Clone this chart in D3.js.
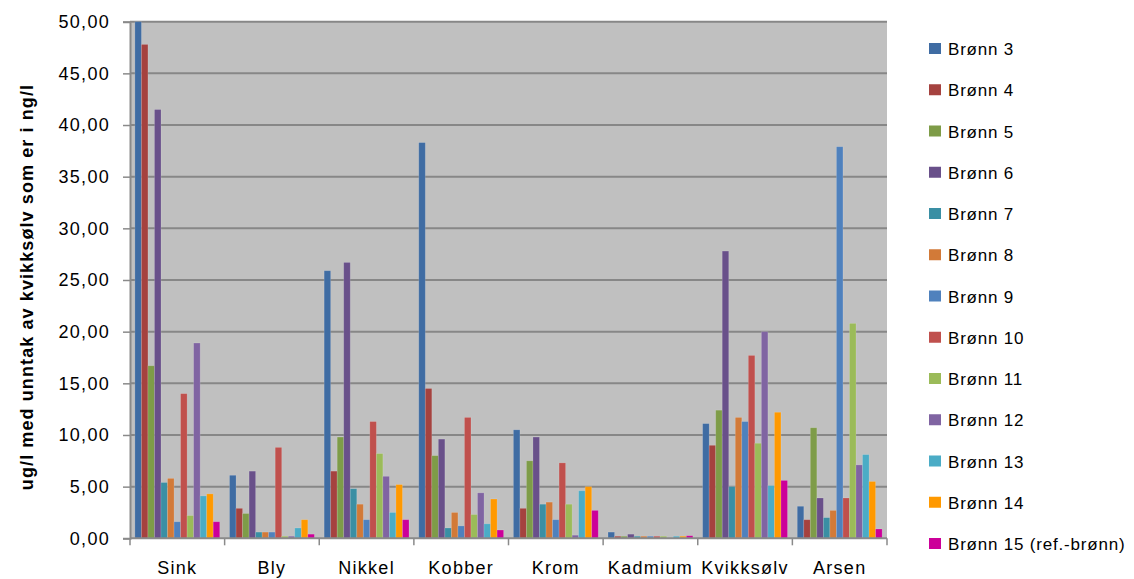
<!DOCTYPE html>
<html>
<head>
<meta charset="utf-8">
<script src="https://cdn.jsdelivr.net/npm/d3@7"></script>
<style>
  html, body { margin: 0; padding: 0; background: #fff; }
  svg { display: block; font-family: "Liberation Sans", Arial, sans-serif; }
</style>
</head>
<body>
<svg id="chart" width="1134" height="579"></svg>
<script>
// Metals measured in each well
const categories = ["Sink", "Bly", "Nikkel", "Kobber", "Krom", "Kadmium", "Kvikksølv", "Arsen"];

// Well names (legend order)
const series = ["Brønn 3", "Brønn 4", "Brønn 5", "Brønn 6", "Brønn 7", "Brønn 8", "Brønn 9",
                "Brønn 10", "Brønn 11", "Brønn 12", "Brønn 13", "Brønn 14", "Brønn 15 (ref.-brønn)"];

// Concentrations per well, one value per metal (same order as categories)
const bronn3  = [50.0, 6.1, 25.9, 38.3, 10.5, 0.6, 11.1, 3.1];
const bronn4  = [47.8, 2.9,  6.5, 14.5,  2.9, 0.2,  9.0, 1.8];
const bronn5  = [16.7, 2.4,  9.8,  8.0,  7.5, 0.2, 12.4, 10.7];
const bronn6  = [41.5, 6.5, 26.7,  9.6,  9.8, 0.4, 27.8, 3.9];
const bronn7  = [ 5.4, 0.6,  4.8,  1.0,  3.3, 0.2,  5.0, 2.0];
const bronn8  = [ 5.8, 0.6,  3.3,  2.5,  3.5, 0.2, 11.7, 2.7];
const bronn9  = [ 1.6, 0.6,  1.8,  1.2,  1.8, 0.2, 11.3, 37.9];
const bronn10 = [14.0, 8.8, 11.3, 11.7,  7.3, 0.2, 17.7, 3.9];
const bronn11 = [ 2.2, 0.2,  8.2,  2.3,  3.3, 0.2,  9.2, 20.8];
const bronn12 = [18.9, 0.2,  6.0,  4.4,  0.3, 0.0, 20.0, 7.1];
const bronn13 = [ 4.1, 1.0,  2.5,  1.4,  4.6, 0.2,  5.1, 8.1];
const bronn14 = [ 4.3, 1.8,  5.2,  3.8,  5.0, 0.2, 12.2, 5.5];
const bronn15 = [ 1.6, 0.4,  1.8,  0.8,  2.7, 0.25, 5.6, 0.9];

const values = [bronn3, bronn4, bronn5, bronn6, bronn7, bronn8, bronn9,
                bronn10, bronn11, bronn12, bronn13, bronn14, bronn15];

const yTicks = [0, 5, 10, 15, 20, 25, 30, 35, 40, 45, 50];

const colors = ["#3F6CA3", "#A5423F", "#7E9C48", "#69508A", "#3A8FA4", "#D27A38", "#4F81BD",
                "#C0504D", "#9BBB59", "#8064A2", "#4BACC6", "#FF9900", "#CC0099"];

const svg = d3.select("#chart");
const plot = { left: 130, right: 887, top: 21.7, bottom: 538.3 };

const x0 = d3.scaleBand().domain(categories).range([plot.left, plot.right]).padding(0);
const x1 = d3.scaleBand().domain(d3.range(series.length)).range([0, x0.bandwidth()])
             .paddingInner(0).paddingOuter(0.75);
const y = d3.scaleLinear().domain([0, 50]).range([plot.bottom, plot.top]);
const fmt = v => d3.format(".2f")(v).replace(".", ",");

// Plot background
svg.append("rect")
  .attr("x", plot.left).attr("y", plot.top)
  .attr("width", plot.right - plot.left).attr("height", plot.bottom - plot.top)
  .attr("fill", "#C0C0C0");

// Horizontal gridlines
svg.append("g").selectAll("line").data(yTicks.filter(d => d > 0)).join("line")
  .attr("x1", plot.left).attr("x2", plot.right)
  .attr("y1", d => y(d)).attr("y2", d => y(d))
  .attr("stroke", "#878787").attr("stroke-width", 2);

// Bars
const groups = svg.append("g").selectAll("g").data(categories).join("g")
  .attr("transform", c => `translate(${x0(c)},0)`);
groups.selectAll("rect")
  .data((c, ci) => values.map((arr, si) => ({ si, v: arr[ci] })))
  .join("rect")
  .attr("x", d => x1(d.si))
  .attr("width", x1.bandwidth())
  .attr("y", d => y(d.v))
  .attr("height", d => y(0) - y(d.v))
  .attr("fill", d => colors[d.si])
  .attr("stroke", "rgba(255,255,255,0.18)")
  .attr("stroke-width", 0.8);

// Y axis
const yAxis = d3.axisLeft(y).tickValues(yTicks).tickFormat(fmt).tickSize(7).tickPadding(13);
const gy = svg.append("g").attr("transform", `translate(${plot.left},0)`).call(yAxis);
gy.select(".domain").attr("stroke", "#8A8A8A").attr("stroke-width", 2);
gy.selectAll(".tick line").attr("stroke", "#8A8A8A").attr("stroke-width", 1.5);
gy.selectAll(".tick text")
  .attr("font-size", 18).attr("fill", "#000").attr("letter-spacing", "1.3px")
  .attr("font-family", "Liberation Sans, Arial, sans-serif");

// X axis with ticks between categories
const gx = svg.append("g").attr("transform", `translate(0,${plot.bottom})`);
gx.append("line").attr("x1", plot.left).attr("x2", plot.right)
  .attr("stroke", "#8A8A8A").attr("stroke-width", 2);
gx.selectAll("line.cat").data(d3.range(categories.length + 1)).join("line")
  .attr("class", "cat")
  .attr("x1", i => plot.left + i * x0.bandwidth()).attr("x2", i => plot.left + i * x0.bandwidth())
  .attr("y1", 0).attr("y2", 7)
  .attr("stroke", "#8A8A8A").attr("stroke-width", 1.5);
gx.selectAll("text").data(categories).join("text")
  .attr("x", c => x0(c) + x0.bandwidth() / 2)
  .attr("y", 36)
  .attr("text-anchor", "middle")
  .attr("font-size", 18).attr("letter-spacing", "1.3px")
  .text(c => c);

// Y axis title
svg.append("text")
  .attr("transform", "translate(33,287) rotate(-90)")
  .attr("text-anchor", "middle")
  .attr("font-size", 18).attr("font-weight", "bold").attr("letter-spacing", "1.1px")
  .text("ug/l med unntak av kvikksølv som er i ng/l");

// Legend
const legend = svg.append("g").selectAll("g").data(series).join("g")
  .attr("transform", (d, i) => `translate(929,${49 + i * 41.25})`);
legend.append("rect")
  .attr("x", 0).attr("y", -6).attr("width", 12).attr("height", 11)
  .attr("fill", (d, i) => colors[i]);
legend.append("text")
  .attr("x", 19).attr("y", 6)
  .attr("font-size", 17).attr("letter-spacing", "0.8px")
  .text(d => d);
</script>
</body>
</html>
